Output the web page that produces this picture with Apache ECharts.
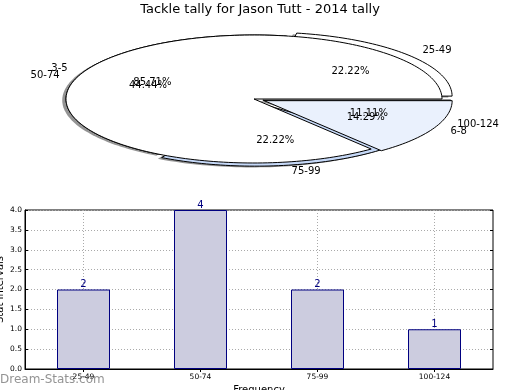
<!DOCTYPE html>
<html><head><meta charset="utf-8">
<script src="https://cdn.jsdelivr.net/npm/echarts@6/dist/echarts.min.js"></script>
<style>html,body{margin:0;padding:0;background:#fff}#c{width:520px;height:390px}</style>
</head><body><div id="c"></div>
<script>
const titleText = 'Tackle tally for Jason Tutt - 2014 tally';
const pie1Labels = ['25-49', '50-74', '75-99', '100-124'];
const pie1Values = [2, 4, 2, 1];
const pie2Labels = ['3-5', '6-8'];
const pie2Values = [6, 1];
const barCategories = ['25-49', '50-74', '75-99', '100-124'];
const barValues = [2, 4, 2, 1];
const watermark = 'Dream-Stats.com';
const xName = 'Frequency';
const yName = 'Stat Intervals';

const pie1Explode = [0.07, 0, 0.05, 0.05];
const pie2Explode = [0, 0.06];
const pie1Colors = ['#ffffff', '#ffffff', '#c6d9f8', '#e9f0fc'];
const pie2Colors = ['#ffffff', '#eaf1fd'];
const FONT = '"DejaVu Sans", sans-serif';

function wedgeRender(values, labels, explode, colors, shadow) {
  const total = values.reduce((a, b) => a + b, 0);
  const starts = []; let acc = 0;
  values.forEach(v => { starts.push(acc / total * 360); acc += v; });
  return function (params, api) {
    const i = params.dataIndex;
    const v = api.value(1);
    const a0 = starts[i], a1 = a0 + v / total * 360;
    const mid = (a0 + a1) / 2 * Math.PI / 180;
    const e = explode[i];
    const ox = e * Math.cos(mid) + (shadow ? -0.02 : 0);
    const oy = e * Math.sin(mid) + (shadow ? -0.02 : 0);
    const pts = [api.coord([ox, oy])];
    const n = Math.max(6, Math.ceil((a1 - a0) / 1.5));
    for (let k = 0; k <= n; k++) {
      const t = (a0 + (a1 - a0) * k / n) * Math.PI / 180;
      pts.push(api.coord([ox + Math.cos(t), oy + Math.sin(t)]));
    }
    const children = [{
      type: 'polygon', shape: { points: pts },
      style: shadow ? { fill: 'rgba(60,60,60,0.55)' } : { fill: colors[i], stroke: '#000', lineWidth: 1 }
    }];
    if (!shadow) {
      const lp = api.coord([ox + 1.1 * Math.cos(mid), oy + 1.1 * Math.sin(mid)]);
      const pp = api.coord([ox + 0.6 * Math.cos(mid), oy + 0.6 * Math.sin(mid)]);
      children.push({ type: 'text', z2: 100, style: { text: labels[i], x: lp[0], y: lp[1],
        align: Math.cos(mid) > 0 ? 'left' : 'right', verticalAlign: 'middle', font: '10px ' + FONT, fill: '#000' } });
      children.push({ type: 'text', z2: 100, style: { text: (v / total * 100).toFixed(2) + '%', x: pp[0], y: pp[1],
        align: 'center', verticalAlign: 'middle', font: '10px ' + FONT, fill: '#000' } });
    }
    return { type: 'group', children };
  };
}

const chart = echarts.init(document.getElementById('c'), null, { renderer: 'canvas' });
const tickStyle = { show: true, inside: true, length: 3, lineStyle: { color: '#000' } };
const dotted = { show: true, lineStyle: { type: [1, 2], color: '#aaaaaa', width: 1 } };
chart.setOption({
  animation: false,
  backgroundColor: '#fff',
  title: [
    { text: titleText, left: 'center', top: 3, padding: 0,
      textStyle: { fontSize: 13, fontWeight: 'normal', color: '#000', fontFamily: FONT } },
    { text: watermark, left: 0, top: 374, padding: 0,
      textStyle: { fontSize: 12, fontWeight: 'normal', color: 'rgba(120,120,120,0.8)', fontFamily: FONT } }
  ],
  grid: [
    { left: 66, top: 35, width: 376, height: 128, show: false, containLabel: false, outerBoundsMode: 'none' },
    { left: 25, right: 27, top: 210, bottom: 21, show: true, borderColor: '#000', borderWidth: 1,
      backgroundColor: 'transparent', containLabel: false, outerBoundsMode: 'none' }
  ],
  xAxis: [
    { gridIndex: 0, type: 'value', min: -1, max: 1, show: false },
    { gridIndex: 1, type: 'category', data: barCategories, boundaryGap: true,
      axisLine: { show: true, lineStyle: { color: '#000' } },
      axisTick: Object.assign({ alignWithLabel: true }, tickStyle),
      axisLabel: { fontSize: 7.5, color: '#000', fontFamily: FONT, margin: 4 },
      splitLine: Object.assign({ alignWithLabel: true }, dotted),
      name: xName, nameLocation: 'middle', nameGap: 16, nameMoveOverlap: false,
      nameTextStyle: { fontSize: 10, color: '#000', fontFamily: FONT } },
    { gridIndex: 1, type: 'category', data: barCategories, position: 'top', boundaryGap: true,
      axisLine: { show: false }, axisTick: Object.assign({ alignWithLabel: true }, tickStyle),
      axisLabel: { show: false }, splitLine: { show: false } }
  ],
  yAxis: [
    { gridIndex: 0, type: 'value', min: -1, max: 1, show: false },
    { gridIndex: 1, type: 'value', min: 0, max: 4, interval: 0.5,
      axisLine: { show: true, lineStyle: { color: '#000' } }, axisTick: tickStyle,
      axisLabel: { fontSize: 7.5, color: '#000', fontFamily: FONT, margin: 3, formatter: v => v.toFixed(1) },
      splitLine: dotted,
      name: yName, nameLocation: 'middle', nameGap: 20, nameRotate: 90, nameMoveOverlap: false,
      nameTextStyle: { fontSize: 10, color: '#000', fontFamily: FONT } },
    { gridIndex: 1, type: 'value', min: 0, max: 4, interval: 0.5, position: 'right',
      axisLine: { show: false }, axisTick: tickStyle, axisLabel: { show: false }, splitLine: { show: false } }
  ],
  series: [
    { type: 'custom', xAxisIndex: 0, yAxisIndex: 0, clip: false, silent: true,
      renderItem: wedgeRender(pie1Values, pie1Labels, pie1Explode, pie1Colors, true),
      data: pie1Values.map((v, i) => [i, v]) },
    { type: 'custom', xAxisIndex: 0, yAxisIndex: 0, clip: false, silent: true,
      renderItem: wedgeRender(pie1Values, pie1Labels, pie1Explode, pie1Colors, false),
      data: pie1Values.map((v, i) => [i, v]) },
    { type: 'custom', xAxisIndex: 0, yAxisIndex: 0, clip: false, silent: true,
      renderItem: wedgeRender(pie2Values, pie2Labels, pie2Explode, pie2Colors, false),
      data: pie2Values.map((v, i) => [i, v]) },
    { type: 'bar', xAxisIndex: 1, yAxisIndex: 1, data: barValues, barWidth: 53, silent: true,
      itemStyle: { color: '#ccccdf', borderColor: '#000080', borderWidth: 1 },
      label: { show: true, position: 'top', distance: 0, color: '#000080', fontSize: 10, fontFamily: FONT } }
  ]
});
</script>
</body></html>
